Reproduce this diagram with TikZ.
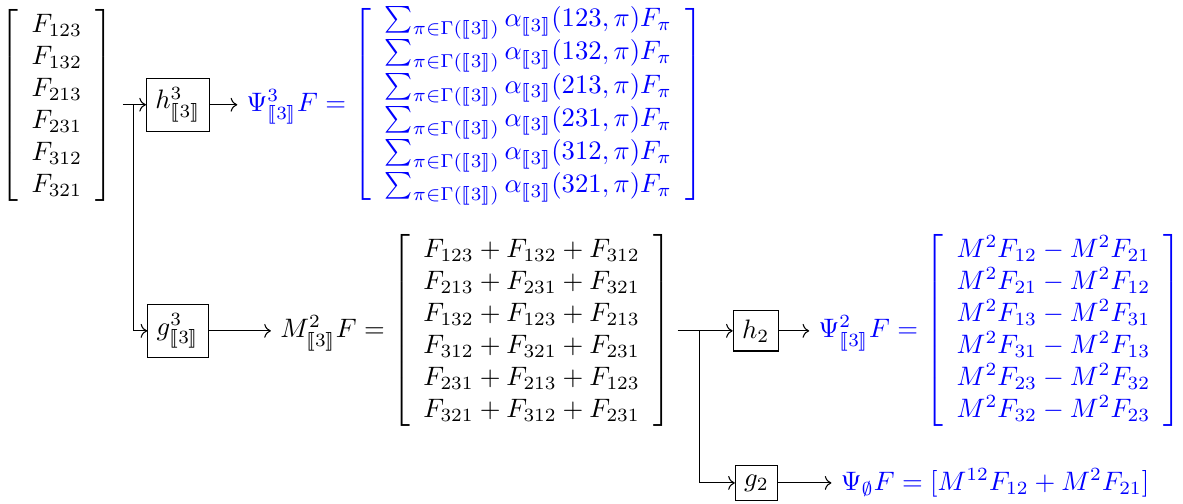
\documentclass[tikz,border=0pt]{standalone}
\usepackage{amsmath,amssymb,stmaryrd}
\usepackage{xcolor}
\usetikzlibrary{positioning,arrows.meta,calc}
\definecolor{psiblue}{HTML}{0000FF}
\newcommand{\tset}{\llbracket 3\rrbracket}
\newcommand{\sumrow}[1]{\sum_{\pi\in\Gamma(\tset)}\alpha_{\tset}(#1,\pi)F_\pi}
\tikzset{
  blk/.style={draw, fill=white},
  flow/.style={->},
  result/.style={text=psiblue},
}

\begin{document}
\begin{tikzpicture}
  \useasboundingbox (0,0) rectangle (15.59,-6.63);
  \node (vecF) at (0.75,-1.395) {$\left[\begin{array}{c}
      F_{123}\\ F_{132}\\ F_{213}\\ F_{231}\\ F_{312}\\ F_{321}
    \end{array}\right]$};
  \coordinate (s1start) at (1.62,-1.38);
  \coordinate (s1) at (1.765,-1.38);
  \node[blk] (hbox) at (2.345,-1.38) {$h^3_{\tset}$};
  \node[blk] (gbox) at (2.345,-4.36) {$g^3_{\tset}$};
  \node[result, right=3.6mm of hbox] (psi3) {$\Psi^3_{\tset}F = \left[\begin{array}{c}
      \sumrow{123}\\[-0.75pt] \sumrow{132}\\[-0.75pt] \sumrow{213}\\[-0.75pt]
      \sumrow{231}\\[-0.75pt] \sumrow{312}\\[-0.75pt] \sumrow{321}
    \end{array}\right]$};
  \node[right=8.2mm of gbox] (mvec) {$M^2_{\tset}F = \left[\begin{array}{c}
      F_{123}+F_{132}+F_{312}\\ F_{213}+F_{231}+F_{321}\\
      F_{132}+F_{123}+F_{213}\\ F_{312}+F_{321}+F_{231}\\
      F_{231}+F_{213}+F_{123}\\ F_{321}+F_{312}+F_{231}
    \end{array}\right]$};
  \coordinate (s2start) at (8.93,-4.36);
  \coordinate (s2) at (9.22,-4.36);
  \node[blk] (htwo) at (9.96,-4.36) {$h_2$};
  \node[blk] (gtwo) at (9.97,-6.364) {$g_2$};
  \node[result, right=4mm of htwo] (psi2) {$\Psi^2_{\tset}F = \left[\begin{array}{c}
      M^2F_{12}-M^2F_{21}\\ M^2F_{21}-M^2F_{12}\\
      M^2F_{13}-M^2F_{31}\\ M^2F_{31}-M^2F_{13}\\
      M^2F_{23}-M^2F_{32}\\ M^2F_{32}-M^2F_{23}
    \end{array}\right]$};
  \node[result, right=7mm of gtwo] (psi0) {$\Psi_{\emptyset}F = [M^{12}F_{12}+M^2F_{21}]$};

  \draw[flow] (s1start) -- (hbox);
  \draw[flow] (s1) |- (gbox);
  \draw[flow] (hbox) -- (psi3);
  \draw[flow] (gbox) -- (mvec);
  \draw[flow] (s2start) -- (htwo);
  \draw[flow] (s2) |- (gtwo);
  \draw[flow] (htwo) -- (psi2);
  \draw[flow] (gtwo) -- (psi0);
\end{tikzpicture}
\end{document}
